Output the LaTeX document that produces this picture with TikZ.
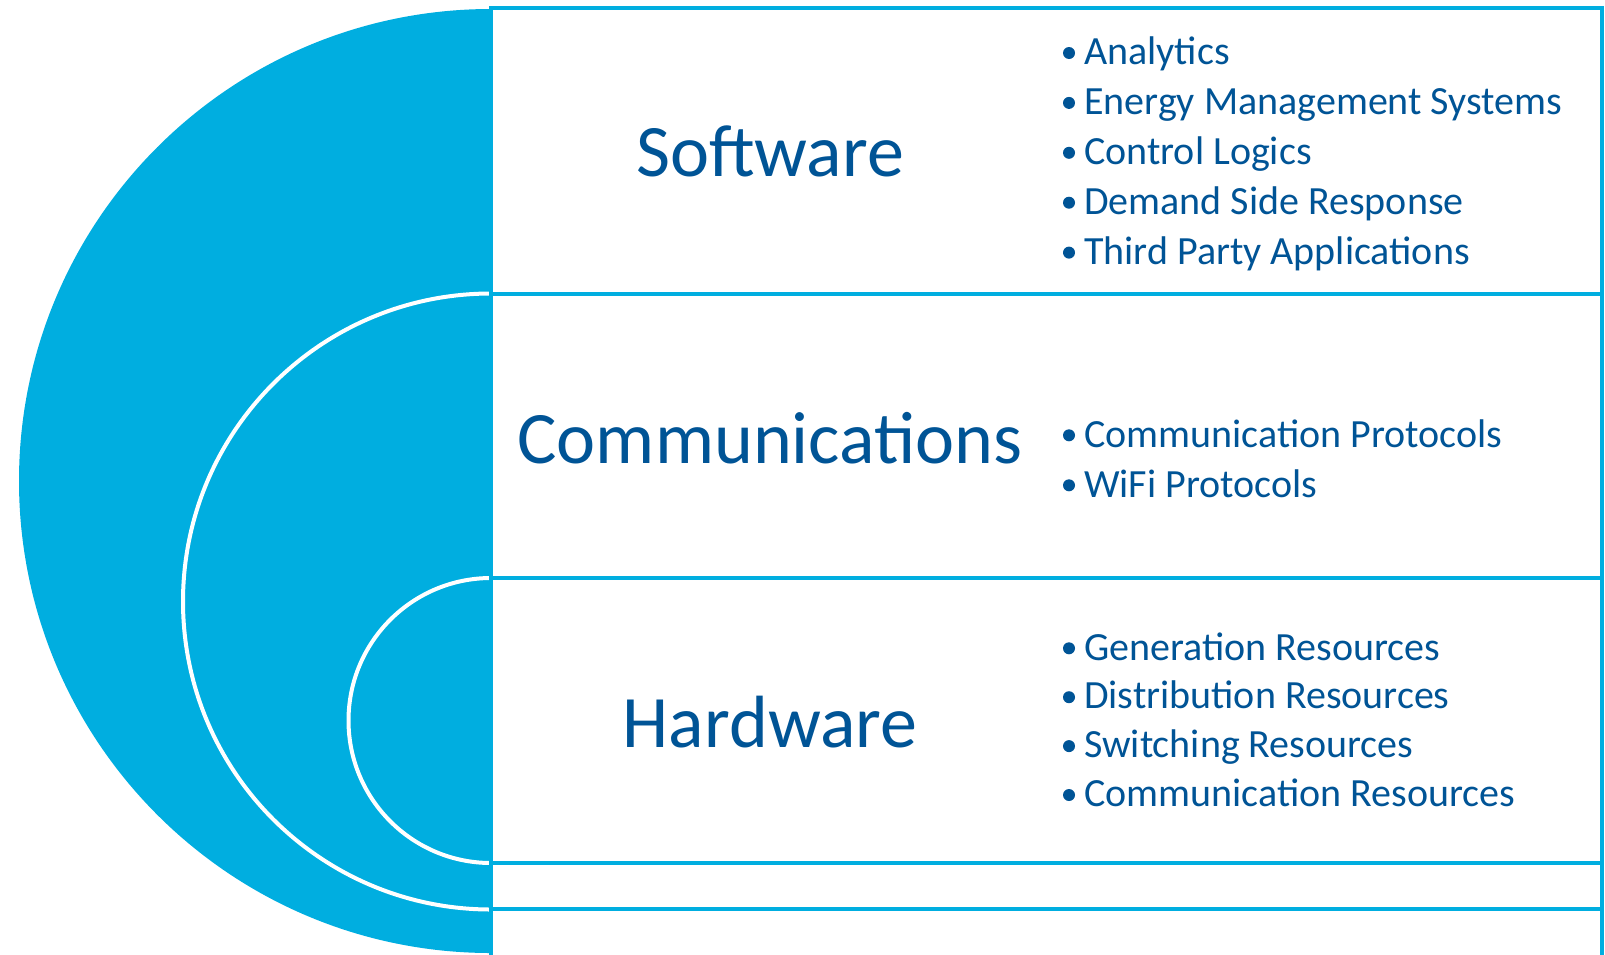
\documentclass[tikz,border=0pt]{standalone}
\usepackage{fontspec}
\setmainfont{Carlito}
\definecolor{ringblue}{RGB}{0,174,224}
\definecolor{textblue}{RGB}{0,84,150}
\begin{document}
\begin{tikzpicture}[x=1pt,y=-1pt]
		\tikzset{layer/.style = {draw=ringblue,fill=white,line width=4.5pt}}
		\tikzset{ring/.style = {draw=white,fill=ringblue,line width=4pt}}
		\tikzset{title/.style = {anchor=base,text=textblue,inner sep=0pt,font=\fontsize{74}{88}\selectfont}}
		\tikzset{item/.style = {anchor=base west,text=textblue,inner sep=0pt,font=\fontsize{40}{48}\selectfont}}
		\useasboundingbox (0,0) rectangle (1605,954);
		% half rings
		\fill[ringblue] (491,9) arc[start angle=270,end angle=90,radius=472] -- cycle;
		\draw[ring] (491,293.5) arc[start angle=270,end angle=90,radius=308] -- cycle;
		\draw[ring] (491,578) arc[start angle=270,end angle=90,radius=142.5] -- cycle;
		% layers
		\draw[layer] (491,8) rectangle (1602,294);
		\draw[layer] (491,294) rectangle (1602,578);
		\draw[layer] (491,578) rectangle (1602,863);
		\draw[layer] (491,863) rectangle (1602,909);
		\draw[layer] (491,909) rectangle (1602,970);
		% titles
		\node[title] (sw) at (770,176) {Software};
		\node[title] (comm) at (770,463) {Communications};
		\node[title] (hw) at (770,747) {Hardware};
		% items
		\foreach \txt [count=\i from 0] in {Analytics,Energy Management Systems,Control Logics,Demand Side Response,Third Party Applications} {
			\node[item] (sw\i) at (1084,64.7+49.9*\i) {\txt};
			\fill[textblue] (sw\i.base west) ++(-15,-11.7) circle (6);
		}
		\foreach \txt [count=\i from 0] in {Communication Protocols,WiFi Protocols} {
			\node[item] (comm\i) at (1084,447+50*\i) {\txt};
			\fill[textblue] (comm\i.base west) ++(-15,-11.7) circle (6);
		}
		\foreach \txt [count=\i from 0] in {Generation Resources,Distribution Resources,Switching Resources,Communication Resources} {
			\node[item] (hw\i) at (1084,660+48.9*\i) {\txt};
			\fill[textblue] (hw\i.base west) ++(-15,-11.7) circle (6);
		}
	\end{tikzpicture}
\end{document}
